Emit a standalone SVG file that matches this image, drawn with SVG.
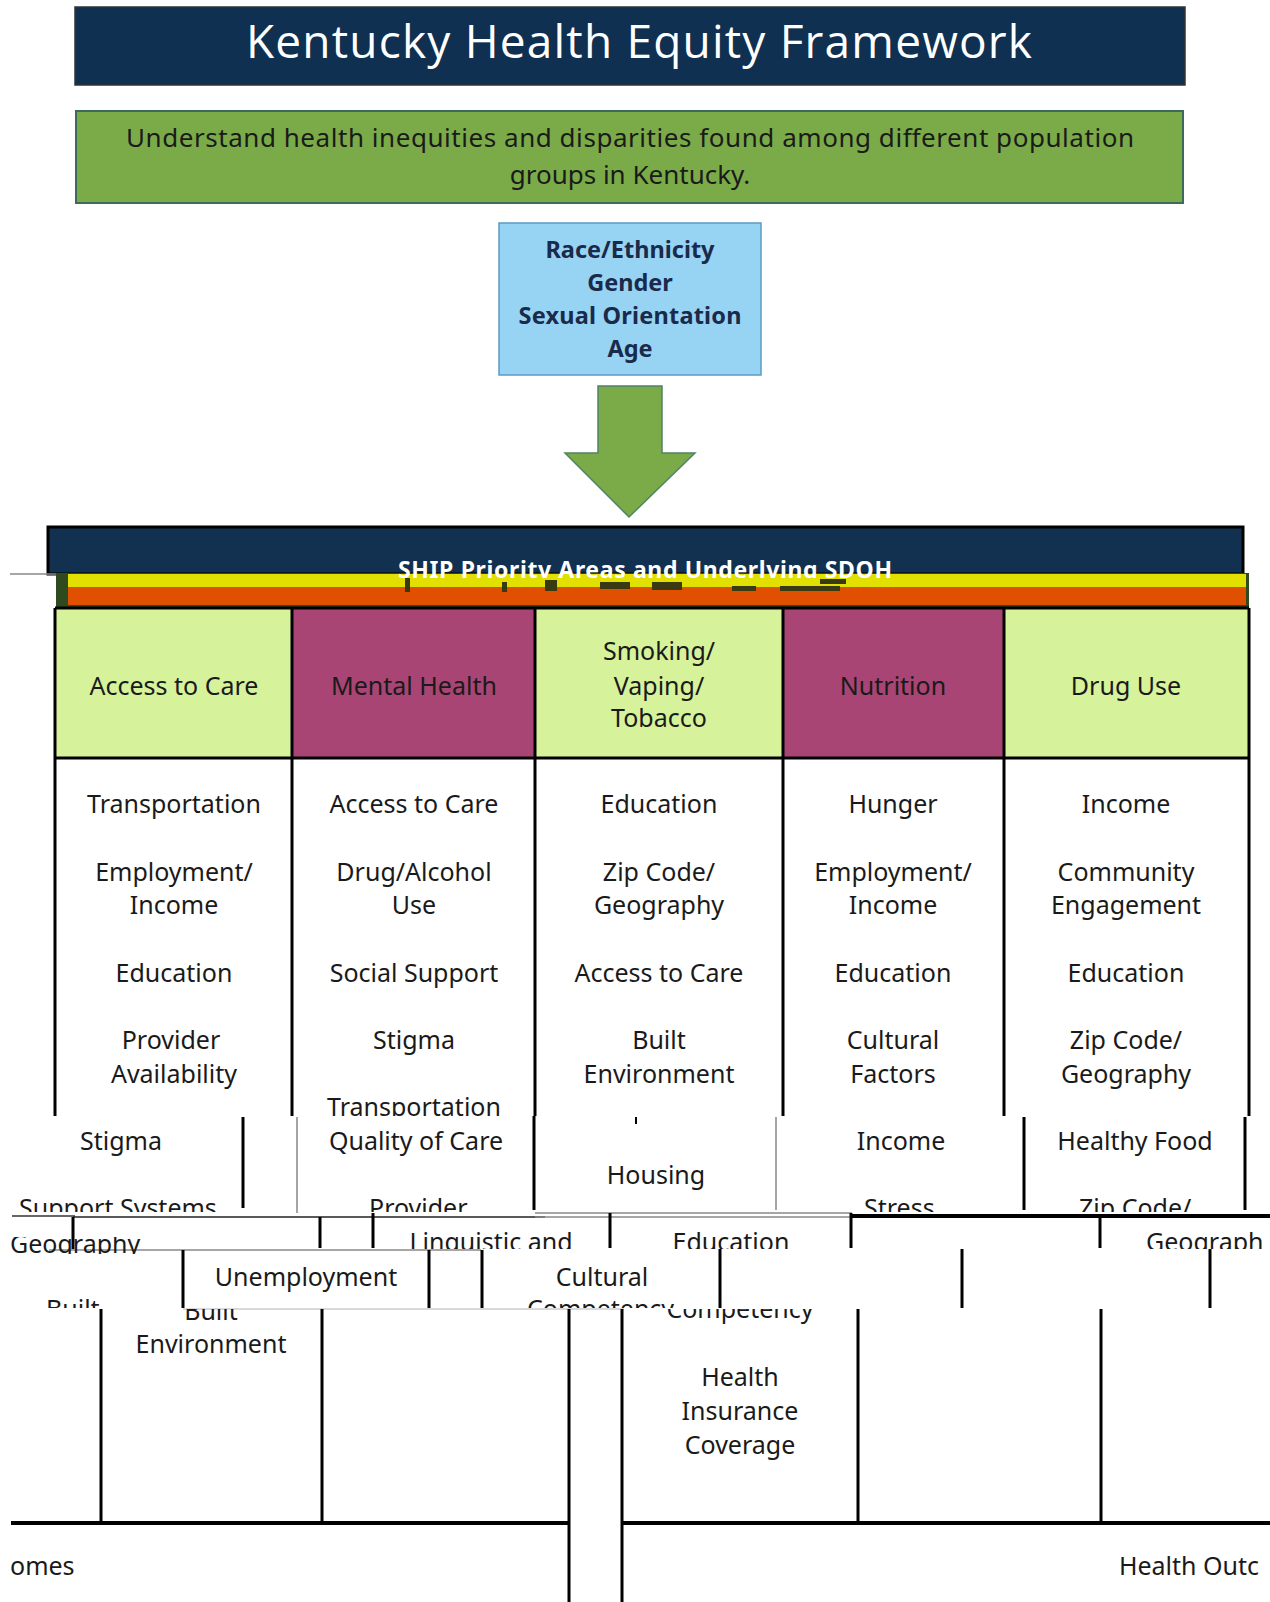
<svg xmlns="http://www.w3.org/2000/svg" width="1270" height="1602" viewBox="0 0 1270 1602">
<style>
.t{font-family:"Noto Sans","Open Sans","Liberation Sans",sans-serif;font-size:25px;fill:#1a1a1a;text-anchor:middle}
.l{text-anchor:start}
.e{text-anchor:end}
.b{stroke:#000;stroke-width:3;fill:none}
.g{stroke:#888;stroke-width:1.5;fill:none}
.green{fill:#d6f29a}
.mag{fill:#a84574}
</style>
<defs>
<clipPath id="cHead"><rect x="0" y="527" width="1270" height="51"/></clipPath>
<clipPath id="cBody"><rect x="0" y="757" width="1270" height="359"/></clipPath>
<clipPath id="cA"><rect x="0" y="1116" width="1270" height="96"/></clipPath>
<clipPath id="cB"><rect x="0" y="1218" width="1270" height="31"/></clipPath>
<clipPath id="cB2"><rect x="0" y="1237" width="1270" height="17"/></clipPath>
<clipPath id="cC"><rect x="0" y="1250" width="1270" height="58"/></clipPath>
<clipPath id="cD"><rect x="0" y="1309" width="1270" height="293"/></clipPath>
</defs>
<rect width="1270" height="1602" fill="#fff"/>

<g id="title">
<rect x="75" y="7" width="1110" height="78" fill="#0f3050" stroke="#333" stroke-width="1.5"/>
<text x="639" y="58" class="t" style="font-family:'Open Sans','Noto Sans',sans-serif;font-size:46px;fill:#fff" textLength="786">Kentucky Health Equity Framework</text>
</g>

<g id="goal">
<rect x="76" y="111" width="1107" height="92" fill="#7aab48" stroke="#3d6b5a" stroke-width="2"/>
<text x="630" y="147" class="t" style="font-size:26px" textLength="1008">Understand health inequities and disparities found among different population</text>
<text x="630" y="184" class="t" style="font-size:26px">groups in Kentucky.</text>
</g>

<g id="demographics">
<rect x="499" y="223" width="262" height="152" fill="#97d3f3" stroke="#5b9bc4" stroke-width="1.5"/>
<g class="t" style="font-size:23.5px;font-weight:bold;fill:#1a2a4a">
<text x="630" y="258">Race/Ethnicity</text>
<text x="630" y="291">Gender</text>
<text x="630" y="324" textLength="223">Sexual Orientation</text>
<text x="630" y="357">Age</text>
</g>
</g>

<g id="connectors">
<polygon points="598,386 662,386 662,453 695,453 629,517 565,453 598,453" fill="#7aab48" stroke="#4f8466" stroke-width="1.5"/>
</g>

<g id="ship-header">
<rect x="48" y="527" width="1195" height="47" fill="#12304f" stroke="#000" stroke-width="3"/>
<line x1="10" y1="574" x2="60" y2="574" class="g"/>
<rect x="56" y="573" width="1193" height="37" fill="#2f4a1e"/>
<rect x="68" y="574" width="1178" height="13" fill="#e2e000"/>
<rect x="68" y="587" width="1178" height="18" fill="#e05000"/>
<g fill="#3a3a12">
<rect x="405" y="578" width="5" height="14"/>
<rect x="502" y="582" width="5" height="10"/>
<rect x="545" y="580" width="12" height="11"/>
<rect x="600" y="582" width="30" height="7"/>
<rect x="652" y="582" width="30" height="8"/>
<rect x="732" y="586" width="24" height="5"/>
<rect x="780" y="586" width="60" height="5"/>
<rect x="820" y="579" width="26" height="5"/>
</g>
<text x="645" y="578" clip-path="url(#cHead)" class="t" style="font-size:23px;font-weight:bold;fill:#fff" textLength="494">SHIP Priority Areas and Underlying SDOH</text>
</g>

<g id="priority-areas">
<rect x="55" y="608" width="237" height="150" class="green"/>
<rect x="292" y="608" width="243" height="150" class="mag"/>
<rect x="535" y="608" width="248" height="150" class="green"/>
<rect x="783" y="608" width="221" height="150" class="mag"/>
<rect x="1004" y="608" width="245" height="150" class="green"/>
<path d="M55 608V758M292 608V758M535 608V758M783 608V758M1004 608V758M1249 608V758M55 758H1249M55 608H1249" class="b"/>
<text x="174" y="695" class="t">Access to Care</text>
<text x="414" y="695" class="t">Mental Health</text>
<text x="659" y="660" class="t">Smoking/</text>
<text x="659" y="695" class="t">Vaping/</text>
<text x="659" y="727" class="t">Tobacco</text>
<text x="893" y="695" class="t">Nutrition</text>
<text x="1126" y="695" class="t">Drug Use</text>
</g>

<g id="grid">
<path d="M55 758V1116M292 758V1116M535 758V1116M783 758V1116M1004 758V1116M1249 758V1116" class="b"/>
<path d="M243 1117V1208M534 1116V1210M1024 1117V1210M1245 1117V1210" class="b"/>
<path d="M297 1117V1213M776 1117V1210" class="g"/>
<line x1="636" y1="1117" x2="636" y2="1124" stroke="#000" stroke-width="2"/>
<line x1="12" y1="1216" x2="75" y2="1216" stroke="#333" stroke-width="1.5"/>
<line x1="73" y1="1217" x2="545" y2="1217" stroke="#222" stroke-width="1.5"/>
<line x1="535" y1="1213" x2="852" y2="1213" class="g"/>
<line x1="535" y1="1217" x2="852" y2="1217" class="g"/>
<line x1="852" y1="1216" x2="1270" y2="1216" stroke="#000" stroke-width="4"/>
<path d="M73 1217V1249M320 1217V1248M373 1213V1248M610 1213V1248M851 1213V1248M1100 1217V1248" class="b"/>
<line x1="49" y1="1250" x2="481" y2="1250" class="g"/>
<path d="M183 1250V1308M429 1250V1308M482 1250V1308M720 1249V1308M962 1249V1308M1210 1249V1308" class="b"/>
<line x1="183" y1="1309" x2="624" y2="1309" stroke="#ccc" stroke-width="1.5"/>
<path d="M101 1309V1523M322 1309V1523M858 1309V1523M1101 1309V1523" class="b"/>
<path d="M569 1309V1602M622 1309V1602" class="b"/>
<line x1="11" y1="1523" x2="570" y2="1523" stroke="#000" stroke-width="4"/>
<line x1="621" y1="1523" x2="1270" y2="1523" stroke="#000" stroke-width="4"/>
</g>

<g id="sdoh-body" clip-path="url(#cBody)">
<g id="col-access">
<text x="174" y="813" class="t">Transportation</text>
<text x="174" y="881" class="t">Employment/</text>
<text x="174" y="914" class="t">Income</text>
<text x="174" y="982" class="t">Education</text>
<text x="171" y="1049" class="t">Provider</text>
<text x="174" y="1083" class="t">Availability</text>
</g>
<g id="col-mental">
<text x="414" y="813" class="t">Access to Care</text>
<text x="414" y="881" class="t">Drug/Alcohol</text>
<text x="414" y="914" class="t">Use</text>
<text x="414" y="982" class="t">Social Support</text>
<text x="414" y="1049" class="t">Stigma</text>
<text x="414" y="1116" class="t">Transportation</text>
</g>
<g id="col-smoking">
<text x="659" y="813" class="t">Education</text>
<text x="659" y="881" class="t">Zip Code/</text>
<text x="659" y="914" class="t">Geography</text>
<text x="659" y="982" class="t">Access to Care</text>
<text x="659" y="1049" class="t">Built</text>
<text x="659" y="1083" class="t">Environment</text>
</g>
<g id="col-nutrition">
<text x="893" y="813" class="t">Hunger</text>
<text x="893" y="881" class="t">Employment/</text>
<text x="893" y="914" class="t">Income</text>
<text x="893" y="982" class="t">Education</text>
<text x="893" y="1049" class="t">Cultural</text>
<text x="893" y="1083" class="t">Factors</text>
</g>
<g id="col-drug">
<text x="1126" y="813" class="t">Income</text>
<text x="1126" y="881" class="t">Community</text>
<text x="1126" y="914" class="t">Engagement</text>
<text x="1126" y="982" class="t">Education</text>
<text x="1126" y="1049" class="t">Zip Code/</text>
<text x="1126" y="1083" class="t">Geography</text>
</g>
</g>

<g id="strip-a" clip-path="url(#cA)">
<text x="121" y="1150" class="t">Stigma</text>
<text x="416" y="1150" class="t">Quality of Care</text>
<text x="656" y="1184" class="t">Housing</text>
<text x="901" y="1150" class="t">Income</text>
<text x="1135" y="1150" class="t">Healthy Food</text>
<text x="19" y="1217" class="t l">Support Systems</text>
<text x="369" y="1217" class="t l">Provider</text>
<text x="864" y="1217" class="t l">Stress</text>
<text x="1079" y="1217" class="t l">Zip Code/</text>
</g>

<g id="strip-b">
<text x="10" y="1253" class="t l" clip-path="url(#cB2)">Geography</text>
<g clip-path="url(#cB)">
<text x="491" y="1251" class="t">Linguistic and</text>
<text x="731" y="1251" class="t">Education</text>
<text x="1146" y="1251" class="t l">Geograph</text>
</g>
</g>

<g id="strip-c" clip-path="url(#cC)">
<text x="306" y="1286" class="t">Unemployment</text>
<text x="602" y="1286" class="t">Cultural</text>
<text x="46" y="1318" class="t l">Built</text>
<text x="527" y="1318" class="t l">Competency</text>
</g>

<g id="strip-d" clip-path="url(#cD)">
<text x="211" y="1320" class="t">Built</text>
<text x="211" y="1353" class="t">Environment</text>
<text x="740" y="1318" class="t">Competency</text>
<text x="740" y="1386" class="t">Health</text>
<text x="740" y="1420" class="t">Insurance</text>
<text x="740" y="1454" class="t">Coverage</text>
</g>

<g id="outcomes">
<text x="10" y="1575" class="t l">omes</text>
<text x="1259" y="1575" class="t e">Health Outc</text>
</g>
</svg>
